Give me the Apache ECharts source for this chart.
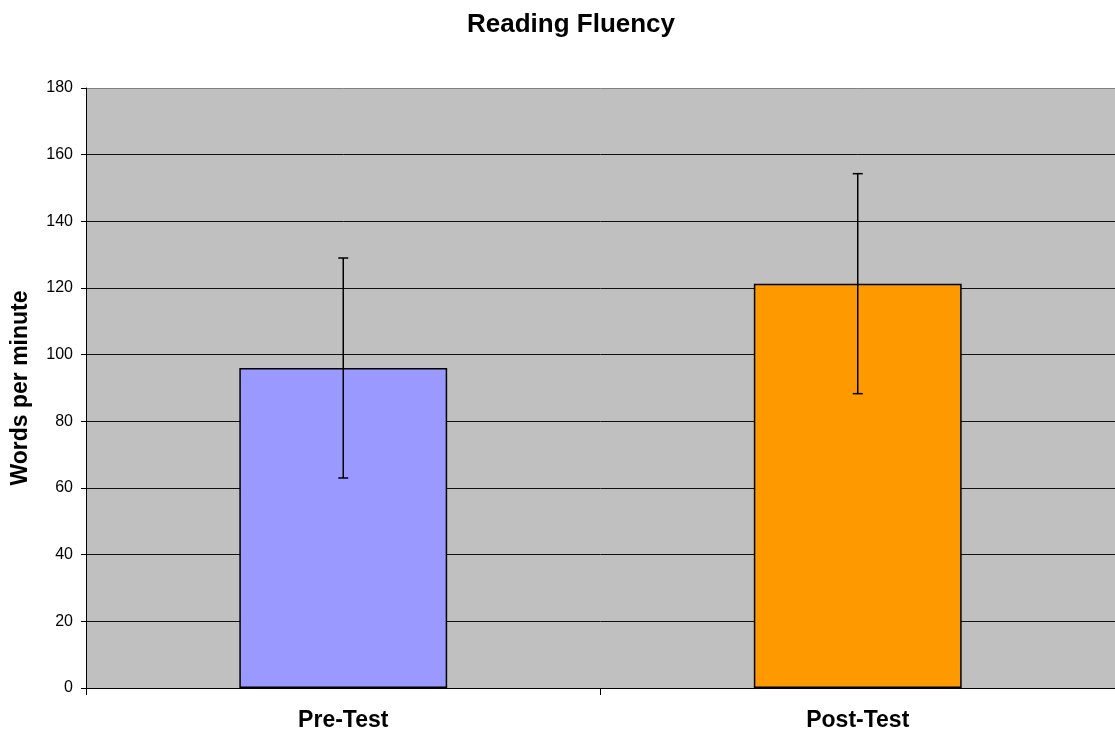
<!DOCTYPE html>
<html>
<head>
<meta charset="utf-8">
<script src="https://cdn.jsdelivr.net/npm/echarts@6/dist/echarts.min.js"></script>
<style>
  html, body { margin: 0; padding: 0; background: #fff; }
  #chart { width: 1115px; height: 733px; }
</style>
</head>
<body>
<div id="chart"></div>
<script>
// data
var categories = ['Pre-Test', 'Post-Test'];
var means = [96, 121.3];
var errors = [33, 33];
var barColors = ['#9999ff', '#ff9900'];

var chart = echarts.init(document.getElementById('chart'), null, { renderer: 'canvas' });

var errData = means.map(function (m, i) {
  return [i, m - errors[i], m + errors[i]];
});

// gridlines dark, top edge of the plot a lighter grey
var gridColors = ['#000', '#111', '#111', '#111', '#111', '#111', '#111', '#111', '#111', '#808080'];

var option = {
  animation: false,
  backgroundColor: '#fff',
  title: {
    text: 'Reading Fluency',
    left: 462,
    top: 7,
    textStyle: { fontFamily: 'Liberation Sans', fontSize: 26, fontWeight: 'bold', color: '#000' }
  },
  grid: {
    left: 86, right: 0, top: 88, bottom: 45,
    containLabel: false,
    outerBoundsMode: 'none',
    show: true, backgroundColor: '#c0c0c0', borderWidth: 0
  },
  xAxis: {
    type: 'category',
    data: categories,
    axisLine: { lineStyle: { color: '#000', width: 1 } },
    axisTick: { show: true, length: 7, lineStyle: { color: '#000' } },
    axisLabel: { fontFamily: 'Liberation Sans', fontSize: 23, fontWeight: 'bold', color: '#000', margin: 21 }
  },
  yAxis: {
    type: 'value',
    min: 0,
    max: 180,
    interval: 20,
    name: 'Words per minute',
    nameLocation: 'middle',
    nameGap: 54,
    nameTextStyle: { fontFamily: 'Liberation Sans', fontSize: 23, fontWeight: 'bold', color: '#000' },
    axisLine: { show: true, lineStyle: { color: '#000' } },
    axisTick: { show: true, length: 5, lineStyle: { color: '#000' } },
    axisLabel: { fontFamily: 'Liberation Sans', fontSize: 16, color: '#000', margin: 13 },
    splitLine: { show: true, lineStyle: { color: gridColors, width: 1 } }
  },
  series: [
    {
      type: 'bar',
      barWidth: '40.4%',
      data: means.map(function (v, i) {
        return { value: v, itemStyle: { color: barColors[i] } };
      }),
      itemStyle: { borderColor: '#000', borderWidth: 1.5 }
    },
    {
      type: 'custom',
      data: errData,
      z: 10,
      renderItem: function (params, api) {
        var x = api.value(0);
        var lo = api.coord([x, api.value(1)]);
        var hi = api.coord([x, api.value(2)]);
        var hw = 5;
        var style = { stroke: '#000', lineWidth: 1.5 };
        return {
          type: 'group',
          children: [
            { type: 'line', shape: { x1: lo[0], y1: lo[1], x2: hi[0], y2: hi[1] }, style: style },
            { type: 'line', shape: { x1: lo[0] - hw, y1: lo[1], x2: lo[0] + hw, y2: lo[1] }, style: style },
            { type: 'line', shape: { x1: hi[0] - hw, y1: hi[1], x2: hi[0] + hw, y2: hi[1] }, style: style }
          ]
        };
      }
    }
  ]
};

chart.setOption(option);
</script>
</body>
</html>
